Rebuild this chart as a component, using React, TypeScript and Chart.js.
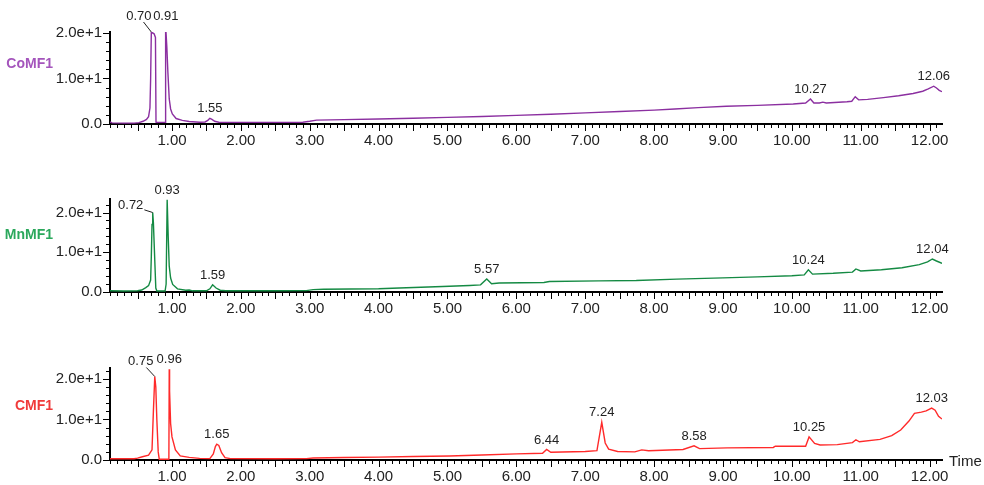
import { useEffect, useRef } from 'react';
import Chart from 'chart.js/auto';

// Retention-time axis (minutes)
const X_MIN = 0.1;
const X_MAX = 12.18;
const X_TICKS = [1, 2, 3, 4, 5, 6, 7, 8, 9, 10, 11, 12];
const Y_TICKS = [0, 10, 20];

// CoMF1 trace
const CO_TIME = [
  0.1, 0.13, 0.3, 0.45, 0.52, 0.58, 0.63, 0.66, 0.68, 0.69, 0.7, 0.74, 0.76, 0.768, 0.78, 0.9, 0.905,
  0.91, 0.925, 0.94, 0.96, 0.98, 1.005, 1.06, 1.15, 1.25, 1.4, 1.48, 1.52, 1.55, 1.58, 1.62, 1.68,
  2.0, 2.5, 2.9, 3.0, 3.1, 3.5, 4.0, 4.5, 5.0, 5.5, 6.0, 6.5, 7.0, 7.5, 8.0, 8.3, 8.64, 9.05, 9.5,
  10.02, 10.2, 10.27, 10.32, 10.4, 10.45, 10.5, 10.8, 10.87, 10.92, 10.97, 11.1, 11.33, 11.55, 11.76,
  11.9, 11.98, 12.06, 12.1, 12.14, 12.18,
];
const CO_SIGNAL = [
  0.45, 0.25, 0.2, 0.2, 0.3, 0.6, 1.0, 1.6, 3.5, 10, 20.2, 19.8, 19.0, 0.4, 0.35, 0.35, 0.5,
  21.6, 17, 11.5, 5.5, 3.3, 2.2, 1.2, 0.8, 0.55, 0.4, 0.45, 0.8, 1.25, 1.0, 0.6, 0.4,
  0.35, 0.35, 0.4, 0.6, 0.85, 0.95, 1.1, 1.25, 1.45, 1.65, 1.9, 2.15, 2.45, 2.75, 3.05, 3.3, 3.6, 3.9, 4.1,
  4.4, 4.6, 5.5, 4.6, 4.6, 4.8, 4.6, 4.9, 5.0, 6.0, 5.3, 5.4, 5.8, 6.2, 6.7,
  7.2, 7.7, 8.3, 7.9, 7.4, 7.1,
];
const CO_PEAKS = [0.7, 0.91, 1.55, 10.27, 12.06];

// MnMF1 trace
const MN_TIME = [
  0.1, 0.3, 0.5, 0.56, 0.62, 0.66, 0.69, 0.7, 0.71, 0.72, 0.73, 0.75, 0.765, 0.78, 0.9, 0.915,
  0.93, 0.945, 0.96, 0.98, 1.01, 1.08, 1.2, 1.25, 1.3, 1.5, 1.55, 1.59, 1.64, 1.7, 1.78, 2.5, 2.95,
  3.05, 3.2, 4.0, 4.3, 4.93, 5.32, 5.48, 5.57, 5.64, 5.75, 6.4, 6.48, 7.2, 7.74, 8.33, 9.0, 9.5,
  10.0, 10.18, 10.24, 10.3, 10.6, 10.88, 10.93, 11.0, 11.3, 11.6, 11.85, 11.97, 12.04, 12.1, 12.18,
];
const MN_SIGNAL = [
  0.3, 0.25, 0.3, 0.5, 1.1, 1.6, 3.0, 9, 17, 20.0, 17.5, 8, 1.0, 0.25, 0.25, 2.0,
  23.2, 14, 6.5, 3.5, 1.9, 0.8, 0.45, 0.5, 0.3, 0.3, 0.8, 1.8, 1.0, 0.45, 0.3, 0.3, 0.35,
  0.6, 0.7, 0.8, 1.0, 1.4, 1.65, 1.8, 3.3, 2.1, 2.25, 2.4, 2.65, 2.8, 2.9, 3.25, 3.55, 3.8,
  4.1, 4.3, 5.6, 4.5, 4.7, 5.0, 5.8, 5.3, 5.6, 6.1, 6.9, 7.6, 8.3, 7.8, 7.2,
];
const MN_PEAKS = [0.72, 0.93, 1.59, 5.57, 10.24, 12.04];

// CMF1 trace
const C_TIME = [
  0.1, 0.45, 0.5, 0.57, 0.66, 0.71, 0.73, 0.75, 0.765, 0.78, 0.8, 0.815, 0.955, 0.96, 0.965, 0.98,
  1.0, 1.05, 1.12, 1.25, 1.4, 1.55, 1.6, 1.63, 1.65, 1.68, 1.72, 1.77, 1.85, 2.5, 2.95, 3.05, 3.5,
  4.0, 4.5, 5.03, 5.5, 6.0, 6.38, 6.44, 6.5, 7.0, 7.17, 7.24, 7.29, 7.34, 7.47, 7.72, 7.82, 7.92,
  8.42, 8.58, 8.66, 9.06, 9.73, 9.76, 10.2, 10.25, 10.33, 10.41, 10.66, 10.88, 10.93, 10.98, 11.28,
  11.45, 11.58, 11.7, 11.78, 11.88, 11.95, 12.03, 12.08, 12.13, 12.18,
];
const C_SIGNAL = [
  0.3, 0.3, 0.45, 0.8, 1.2, 2.5, 12, 20.6, 18, 10, 2, 0.2, 0.2, 22.4, 17, 9,
  5.7, 2.5, 1.0, 0.65, 0.4, 0.35, 1.5, 3.3, 3.9, 3.6, 1.8, 0.6, 0.35, 0.3, 0.35, 0.5, 0.6,
  0.7, 0.85, 1.0, 1.25, 1.5, 1.65, 2.6, 1.9, 2.1, 2.3, 9.3, 4.2, 2.7, 2.1, 2.0, 2.5, 2.3,
  2.6, 3.5, 2.8, 3.0, 3.1, 3.4, 3.4, 5.7, 4.1, 3.7, 3.8, 4.3, 5.0, 4.5, 5.1,
  6.0, 7.4, 9.6, 11.5, 11.8, 12.1, 12.8, 12.3, 10.8, 10.1,
];
const C_PEAKS = [0.75, 0.96, 1.65, 6.44, 7.24, 8.58, 10.25, 12.03];

const FONT = 'Arial, "Liberation Sans", sans-serif';

type Leader = { at: number; dx: number; dy: number };
type PanelDef = {
  name: string;
  time: number[];
  signal: number[];
  peaks: number[];
  yMax: number;
  line: string;
  nameColor: string;
  top: number;
  height: number;
  padTop: number;
  padBottom: number;
  axisHeight: number;
  nameLift: number;
  leaders: Leader[];
  showTime: boolean;
};

const PANELS: PanelDef[] = [
  {
    name: 'CoMF1', time: CO_TIME, signal: CO_SIGNAL, peaks: CO_PEAKS, yMax: 20.2,
    line: '#8B2FA0', nameColor: '#A455BC',
    top: 0, height: 160, padTop: 32, padBottom: 6, axisHeight: 30, nameLift: 60,
    leaders: [{ at: 0.7, dx: -12.5, dy: -16 }], showTime: false,
  },
  {
    name: 'MnMF1', time: MN_TIME, signal: MN_SIGNAL, peaks: MN_PEAKS, yMax: 23.4,
    line: '#148A43', nameColor: '#2BA85C',
    top: 165, height: 160, padTop: 34, padBottom: 3, axisHeight: 30, nameLift: 57,
    leaders: [{ at: 0.72, dx: -22, dy: -7 }], showTime: false,
  },
  {
    name: 'CMF1', time: C_TIME, signal: C_SIGNAL, peaks: C_PEAKS, yMax: 22.7,
    line: '#FF2A2A', nameColor: '#F03A3A',
    top: 330, height: 155, padTop: 38, padBottom: 0, axisHeight: 25, nameLift: 54,
    leaders: [{ at: 0.75, dx: -14, dy: -15 }], showTime: true,
  },
];

function sci(v: number): string {
  if (v === 0) return '0.0';
  const e = Math.floor(Math.log10(v));
  return (v / Math.pow(10, e)).toFixed(1) + 'e+' + e;
}

function decorPlugin(p: PanelDef) {
  return {
    id: 'traceDecor',
    afterDraw(chart: any) {
      const { ctx, chartArea: a, scales } = chart;
      const xs = scales.x;
      const ys = scales.y;
      ctx.save();

      // axis tick marks: every 0.1 min (long every 0.5), every 2 units on y (long every 10)
      ctx.strokeStyle = '#000';
      ctx.lineWidth = 1;
      ctx.beginPath();
      for (let k = Math.ceil(X_MIN * 10); k <= Math.floor(X_MAX * 10); k++) {
        const px = Math.round(xs.getPixelForValue(k / 10)) + 0.5;
        const len = k % 5 === 0 ? 7 : 4;
        ctx.moveTo(px, a.bottom);
        ctx.lineTo(px, a.bottom + len);
      }
      for (let v = 0; v <= p.yMax + 1e-9; v += 2) {
        const py = Math.round(ys.getPixelForValue(v)) + 0.5;
        const len = v % 10 === 0 ? 7 : 4;
        ctx.moveTo(a.left, py);
        ctx.lineTo(a.left - len, py);
      }
      ctx.stroke();

      // retention-time labels on the peaks
      ctx.font = '13px ' + FONT;
      ctx.fillStyle = '#222';
      ctx.textAlign = 'center';
      ctx.textBaseline = 'middle';
      for (const t of p.peaks) {
        const i = p.time.indexOf(t);
        const v = p.signal[i];
        const ax = xs.getPixelForValue(t);
        const ay = ys.getPixelForValue(v);
        const txt = t.toFixed(2);
        const lead = p.leaders.find((l) => l.at === t);
        if (lead) {
          const cx = ax + lead.dx;
          const cy = ay + lead.dy;
          ctx.fillText(txt, cx, cy);
          const hw = ctx.measureText(txt).width / 2 + 1;
          const hh = 6;
          const dx = ax - cx;
          const dy = ay - cy;
          const s = Math.min(hw / Math.abs(dx || 1e-6), hh / Math.abs(dy || 1e-6));
          ctx.beginPath();
          ctx.strokeStyle = '#222';
          ctx.moveTo(cx + dx * s, cy + dy * s);
          ctx.lineTo(ax, ay);
          ctx.stroke();
        } else {
          ctx.fillText(txt, ax, ay - 9.5);
        }
      }

      // trace name
      ctx.font = 'bold 14px ' + FONT;
      ctx.fillStyle = p.nameColor;
      ctx.textAlign = 'right';
      ctx.fillText(p.name, 53, a.bottom - p.nameLift);

      if (p.showTime) {
        ctx.font = '15px ' + FONT;
        ctx.fillStyle = '#222';
        ctx.textAlign = 'left';
        ctx.fillText('Time', a.right + 7, a.bottom + 2);
      }
      ctx.restore();
    },
  };
}

function TracePanel({ p }: { p: PanelDef }) {
  const ref = useRef<HTMLCanvasElement>(null);
  useEffect(() => {
    const canvas = ref.current;
    if (!canvas) return;
    const chart = new Chart(canvas, {
      type: 'line',
      data: {
        datasets: [
          {
            label: p.name,
            data: p.time.map((t, i) => ({ x: t, y: p.signal[i] })),
            borderColor: p.line,
            borderWidth: 1.4,
            pointRadius: 0,
            tension: 0,
            fill: false,
          },
        ],
      },
      options: {
        responsive: false,
        animation: false,
        devicePixelRatio: 1,
        events: [],
        layout: { padding: { top: p.padTop, bottom: p.padBottom, left: 0, right: 42 } },
        plugins: { legend: { display: false }, tooltip: { enabled: false } },
        scales: {
          x: {
            type: 'linear',
            min: X_MIN,
            max: X_MAX,
            grid: { display: false, drawTicks: false },
            border: { display: true, color: '#000', width: 2, z: -1 },
            ticks: {
              padding: 7.5,
              color: '#222',
              font: { family: FONT, size: 15 },
              maxRotation: 0,
              autoSkip: false,
              callback: (v: any) => Number(v).toFixed(2),
            },
            afterBuildTicks: (s: any) => {
              s.ticks = X_TICKS.map((v) => ({ value: v }));
            },
            afterFit: (s: any) => {
              s.height = p.axisHeight;
            },
          },
          y: {
            type: 'linear',
            min: 0,
            max: p.yMax,
            grid: { display: false, drawTicks: false },
            border: { display: true, color: '#000', width: 2, z: -1 },
            ticks: {
              padding: 8,
              color: '#222',
              font: { family: FONT, size: 15 },
              callback: (v: any) => sci(Number(v)),
            },
            afterBuildTicks: (s: any) => {
              s.ticks = Y_TICKS.map((v) => ({ value: v }));
            },
            afterFit: (s: any) => {
              s.width = 110;
            },
          },
        },
      },
      plugins: [decorPlugin(p)],
    } as any);
    return () => chart.destroy();
  }, [p]);
  return (
    <canvas
      ref={ref}
      width={984}
      height={p.height}
      style={{ position: 'absolute', left: 0, top: p.top, width: 984, height: p.height, display: 'block' }}
    />
  );
}

export default function App() {
  return (
    <div
      style={{
        position: 'absolute',
        left: 0,
        top: 0,
        width: 984,
        height: 485,
        background: '#fff',
        overflow: 'hidden',
      }}
    >
      {PANELS.map((p) => (
        <TracePanel key={p.name} p={p} />
      ))}
    </div>
  );
}
